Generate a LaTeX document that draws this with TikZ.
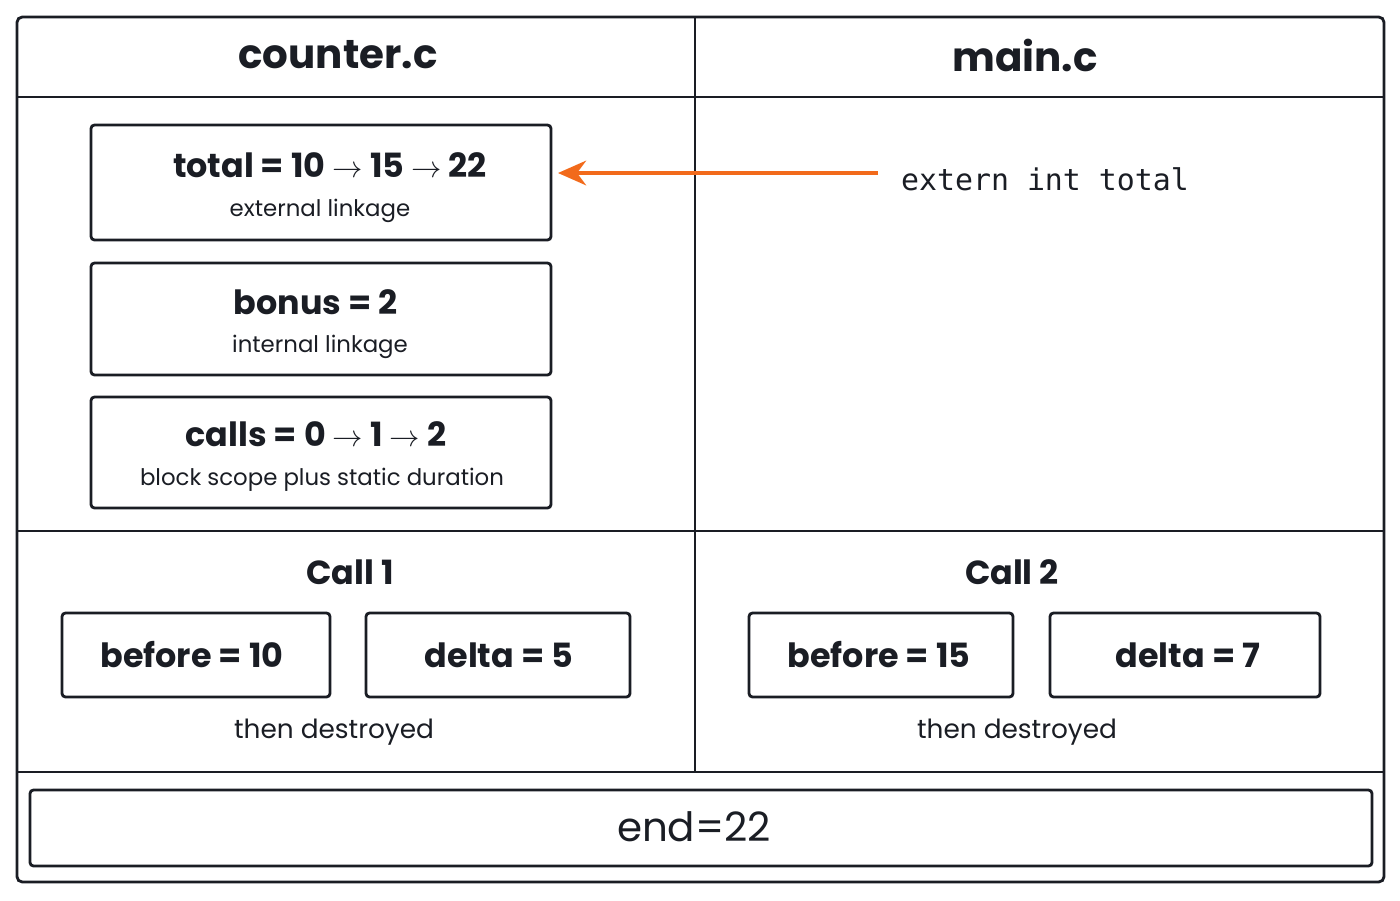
\documentclass[tikz,border=0pt]{standalone}
\usepackage{fontspec}
\setmainfont{Poppins}
\newfontfamily\codefont{DejaVu Sans Mono}
\usetikzlibrary{arrows.meta}
\definecolor{ink}{HTML}{1A1D24}
\definecolor{accent}{HTML}{F26A1B}
\tikzset{
  frame/.style={draw=ink, line width=1.6pt},
  var/.style={draw=ink, line width=1.6pt, rounded corners=2pt},
  head/.style={text=ink, font=\fontsize{23}{28}\selectfont\bfseries},
  big/.style={text=ink, font=\fontsize{19}{24}\selectfont\bfseries},
  small/.style={text=ink, font=\fontsize{13}{17}\selectfont},
  note/.style={text=ink, font=\fontsize{15}{19}\selectfont},
}
\begin{document}
\begin{tikzpicture}[x=0.02cm,y=-0.02cm]
  \useasboundingbox (0,0) rectangle (1400,900);

  % outer frame and dividers
  \draw[frame, rounded corners=3pt] (17,17) rectangle (1384,882);
  \draw[frame] (695,17) -- (695,772);
  \draw[frame] (17,97) -- (1384,97);
  \draw[frame] (17,531) -- (1384,531);
  \draw[frame] (17,772) -- (1384,772);

  \node[head] (hcnt) at (338,55) {counter.c};
  \node[head] (hmain) at (1025,55) {main.c};

  % file scope variables
  \draw[var] (91,125) rectangle (551,240);
  \node[big] (total) at (330,165) {total = 10 $\rightarrow$ 15 $\rightarrow$ 22};
  \node[small] at (320,211) {external linkage};
  \coordinate (totalE) at (558,173);

  \draw[var] (91,263) rectangle (551,375);
  \node[big] (bonus) at (316,302) {bonus = 2};
  \node[small] at (320,347) {internal linkage};

  \draw[var] (91,397) rectangle (551,508);
  \node[big] (calls) at (316,434) {calls = 0 $\rightarrow$ 1 $\rightarrow$ 2};
  \node[small] at (322,480) {block scope plus static duration};

  % extern declaration
  \node[note, font=\codefont\fontsize{17}{20}\selectfont] (ext) at (1045,179) {extern int total};
  \coordinate (extW) at (878,173);
  \draw[accent, line width=2.4pt, -{Stealth[length=16pt,width=14pt]}] (extW) -- (totalE);

  % calls
  \node[big] (c1) at (350,572) {Call 1};
  \draw[var] (62,613) rectangle (330,697);
  \node[big] (b1) at (192,655) {before = 10};
  \draw[var] (366,613) rectangle (630,697);
  \node[big] (d1) at (499,655) {delta = 5};
  \node[note] at (334,732) {then destroyed};

  \node[big] (c2) at (1012,572) {Call 2};
  \draw[var] (749,613) rectangle (1013,697);
  \node[big] (b2) at (879,655) {before = 15};
  \draw[var] (1050,613) rectangle (1320,697);
  \node[big] (d2) at (1188,655) {delta = 7};
  \node[note] at (1017,732) {then destroyed};

  % result
  \draw[var] (30,790) rectangle (1372,866);
  \node[text=ink, font=\fontsize{23}{28}\selectfont] (res) at (694,827) {end=22};
\end{tikzpicture}
\end{document}
